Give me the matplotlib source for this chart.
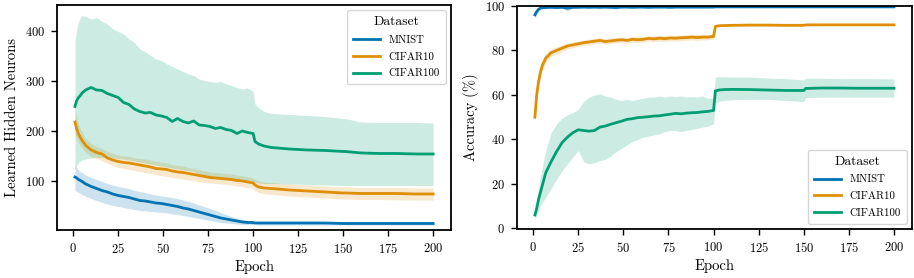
import matplotlib
matplotlib.use("Agg")
import matplotlib.pyplot as plt

plt.rcParams['font.family'] = 'serif'
plt.rcParams['font.serif'] = ['cmr10', 'DejaVu Serif']
plt.rcParams['mathtext.fontset'] = 'cm'
plt.rcParams['axes.formatter.use_mathtext'] = True

epochs = [1, 2, 3, 4, 5, 7, 10, 13, 16, 19, 22, 25, 28, 31, 34, 37, 40, 43, 46, 49,
          52, 55, 58, 61, 64, 67, 70, 73, 76, 79, 82, 85, 88, 91, 94, 97, 100,
          101, 103, 106, 110, 120, 130, 140, 150, 151, 160, 170, 180, 190, 200]

datasets = ['MNIST', 'CIFAR10', 'CIFAR100']
colors = ['#0173B2', '#DE8F05', '#029E73']

# ---- learned hidden neurons ----
neur_mnist = [109, 107, 104, 102, 100, 95, 90, 86, 82, 79, 75, 72, 70, 68, 65, 62, 61, 59, 57, 56,
              54, 52, 50, 47, 45, 42, 39, 36, 33, 30, 27, 25, 23, 21, 19, 18, 18,
              17, 17, 17, 17, 17, 17, 17, 16, 16, 16, 16, 16, 16, 16]
neur_mnist_hi = [132, 128, 122, 120, 118, 113, 108, 104, 100, 96, 93, 90, 88, 86, 82, 80, 78, 75, 73, 71,
                 70, 68, 66, 63, 60, 57, 53, 50, 46, 42, 38, 34, 30, 27, 24, 22, 21,
                 20, 20, 20, 20, 20, 20, 20, 19, 19, 19, 19, 19, 19, 19]
neur_mnist_lo = [82, 80, 78, 76, 74, 70, 66, 62, 58, 55, 52, 50, 48, 46, 44, 42, 41, 40, 39, 38,
                 37, 35, 34, 32, 30, 28, 26, 24, 22, 20, 18, 17, 16, 15, 14, 14, 14,
                 14, 13, 13, 13, 13, 13, 13, 13, 13, 13, 13, 13, 13, 13]

neur_c10 = [219, 205, 195, 188, 182, 172, 163, 158, 155, 147, 143, 140, 138, 137, 135, 133, 131, 129, 126, 125,
            124, 121, 119, 118, 116, 114, 112, 110, 108, 107, 106, 105, 104, 102, 101, 99, 97,
            93, 89, 87, 86, 83, 81, 79, 77, 77, 76, 76, 76, 75, 75]
neur_c10_hi = [245, 228, 215, 205, 198, 186, 176, 170, 166, 160, 156, 153, 151, 150, 148, 146, 145, 143, 140, 139,
               137, 134, 132, 131, 128, 126, 124, 121, 119, 118, 117, 116, 115, 113, 111, 109, 107,
               104, 101, 99, 98, 95, 93, 91, 89, 89, 88, 88, 88, 87, 87]
neur_c10_lo = [195, 185, 177, 172, 167, 158, 150, 146, 141, 136, 132, 128, 126, 124, 122, 120, 118, 116, 113, 112,
               110, 108, 106, 105, 103, 102, 100, 98, 97, 96, 95, 94, 93, 91, 90, 88, 86,
               82, 78, 75, 74, 71, 69, 67, 65, 65, 64, 64, 63, 63, 63]

neur_c100 = [250, 262, 268, 272, 277, 283, 288, 283, 282, 276, 272, 268, 258, 254, 245, 240, 237, 238, 233, 231,
             228, 220, 226, 220, 217, 221, 213, 212, 210, 206, 208, 204, 202, 196, 201, 198, 196,
             180, 175, 171, 168, 165, 163, 162, 160, 160, 157, 156, 156, 155, 155]
neur_c100_hi = [380, 405, 420, 428, 432, 430, 425, 428, 420, 415, 405, 400, 395, 385, 378, 365, 360, 352, 345, 342,
                335, 330, 325, 320, 315, 312, 305, 302, 300, 298, 300, 295, 292, 288, 285, 287, 280,
                255, 248, 240, 236, 234, 232, 230, 226, 226, 219, 218, 218, 218, 217]
neur_c100_lo = [125, 132, 138, 141, 143, 145, 147, 148, 148, 148, 147, 146, 145, 143, 141, 139, 137, 135, 133, 131,
                129, 127, 125, 123, 122, 120, 113, 111, 110, 108, 107, 106, 105, 104, 103, 102, 100,
                98, 97, 96, 96, 95, 94, 93, 92, 92, 92, 92, 92, 92, 92]

# ---- accuracy (%) ----
acc_mnist = [96.0, 97.5, 98.5, 99.0, 99.2, 99.3, 99.4, 99.3, 99.4, 99.0, 99.4, 99.4, 99.5, 99.4, 99.5, 99.4, 99.5, 99.4, 99.3, 99.5,
             99.5, 99.4, 99.5, 99.5, 99.4, 99.5, 99.5, 99.5, 99.4, 99.5, 99.5, 99.5, 99.5, 99.5, 99.5, 99.5, 99.5,
             99.6, 99.6, 99.6, 99.6, 99.6, 99.6, 99.6, 99.6, 99.6, 99.6, 99.6, 99.6, 99.6, 99.6]
acc_mnist_hi = [97.5, 98.7, 99.4, 99.8, 99.9, 100, 100, 100, 100, 99.9, 100, 100, 100, 100, 100, 100, 100, 100, 100, 100,
                100, 100, 100, 100, 100, 100, 100, 100, 100, 100, 100, 100, 100, 100, 100, 100, 100,
                100, 100, 100, 100, 100, 100, 100, 100, 100, 100, 100, 100, 100, 100]
acc_mnist_lo = [94.5, 96.0, 97.5, 98.3, 98.6, 98.8, 99.0, 98.8, 99.0, 97.8, 99.0, 99.0, 99.1, 98.9, 99.1, 99.0, 99.1, 99.0, 98.6, 99.1,
                99.1, 99.0, 99.1, 99.1, 99.0, 99.1, 99.1, 99.2, 99.0, 99.2, 99.2, 99.2, 99.2, 99.2, 99.2, 99.2, 99.2,
                99.5, 99.5, 99.5, 99.5, 99.5, 99.5, 99.5, 99.5, 99.5, 99.5, 99.5, 99.5, 99.5, 99.5]

acc_c10 = [50.0, 60.0, 66.0, 70.0, 73.0, 76.5, 79.0, 80.0, 81.0, 82.0, 82.5, 83.0, 83.5, 83.8, 84.2, 84.5, 84.0, 84.3, 84.6, 84.8,
           84.5, 85.0, 84.8, 85.0, 85.4, 85.2, 85.5, 85.3, 85.6, 85.5, 85.7, 85.8, 86.0, 85.8, 86.0, 86.0, 86.3,
           90.8, 91.1, 91.2, 91.3, 91.4, 91.4, 91.3, 91.3, 91.5, 91.5, 91.5, 91.5, 91.5, 91.5]
acc_c10_hi = [52.0, 63.0, 69.0, 73.0, 75.5, 78.5, 80.8, 81.6, 82.5, 83.3, 83.8, 84.2, 84.7, 85.0, 85.4, 85.7, 85.3, 85.5, 85.8, 86.0,
              85.8, 86.3, 86.1, 86.3, 86.7, 86.5, 86.8, 86.6, 86.9, 86.8, 87.0, 87.1, 87.3, 87.1, 87.3, 87.2, 87.4,
              91.2, 91.5, 91.6, 91.6, 91.7, 91.7, 91.6, 91.6, 91.8, 91.8, 91.8, 91.8, 91.8, 91.8]
acc_c10_lo = [48.0, 57.0, 63.0, 67.0, 70.5, 74.5, 77.2, 78.4, 79.5, 80.7, 81.2, 81.8, 82.3, 82.6, 83.0, 83.3, 82.7, 83.1, 83.4, 83.6,
              83.2, 83.7, 83.5, 83.7, 84.1, 83.9, 84.2, 84.0, 84.3, 84.2, 84.4, 84.5, 84.7, 84.5, 84.7, 84.8, 85.2,
              90.4, 90.7, 90.8, 91.0, 91.1, 91.1, 91.0, 91.0, 91.2, 91.2, 91.2, 91.2, 91.2, 91.2]

acc_c100 = [6.0, 9.0, 13.0, 16.0, 19.0, 25.0, 30.0, 34.5, 38.5, 41.0, 43.0, 44.3, 44.0, 43.7, 44.0, 45.5, 46.0, 46.8, 47.5, 48.2,
            49.0, 49.3, 49.8, 50.0, 50.2, 50.5, 50.6, 51.0, 51.3, 51.7, 51.5, 51.8, 52.0, 52.1, 52.4, 52.6, 53.0,
            61.8, 62.2, 62.4, 62.5, 62.4, 62.2, 62.0, 62.0, 62.9, 63.1, 63.1, 63.0, 63.0, 63.0]
acc_c100_hi = [7.0, 12.0, 18.0, 23.0, 27.0, 35.0, 43.0, 47.0, 49.5, 51.0, 52.0, 53.5, 57.0, 59.0, 60.0, 60.5, 59.5, 59.0, 58.0, 57.5,
               58.0, 57.5, 58.0, 58.5, 59.0, 59.0, 59.5, 59.0, 59.5, 59.2, 59.5, 59.0, 59.3, 59.0, 59.5, 58.5, 58.5,
               68.0, 68.2, 68.2, 68.0, 68.0, 67.6, 67.3, 66.7, 67.5, 67.5, 67.3, 67.3, 67.3, 67.2]
acc_c100_lo = [4.0, 6.0, 8.0, 10.0, 11.5, 14.0, 18.0, 22.0, 26.0, 29.0, 32.0, 35.0, 30.0, 29.0, 29.5, 30.5, 31.0, 32.5, 34.5, 36.0,
               37.5, 39.0, 40.0, 41.0, 41.5, 42.0, 42.5, 43.5, 44.0, 44.0, 43.5, 44.0, 44.5, 45.0, 45.5, 46.0, 47.0,
               56.5, 57.0, 57.5, 57.8, 58.0, 58.0, 57.5, 57.0, 58.8, 59.0, 59.0, 59.0, 59.0, 59.0]

neur_series = [(neur_mnist, neur_mnist_lo, neur_mnist_hi),
               (neur_c10, neur_c10_lo, neur_c10_hi),
               (neur_c100, neur_c100_lo, neur_c100_hi)]
acc_series = [(acc_mnist, acc_mnist_lo, acc_mnist_hi),
              (acc_c10, acc_c10_lo, acc_c10_hi),
              (acc_c100, acc_c100_lo, acc_c100_hi)]

fig = plt.figure(figsize=(9.14, 2.78), dpi=100)
ax1 = fig.add_axes([0.0624, 0.1727, 0.4311, 0.8094])
ax2 = fig.add_axes([0.5656, 0.1763, 0.4322, 0.8022])

for ax, series in [(ax1, neur_series), (ax2, acc_series)]:
    for name, color, (m, lo, hi) in zip(datasets, colors, series):
        ax.fill_between(epochs, lo, hi, color=color, alpha=0.2, linewidth=0)
        ax.plot(epochs, m, color=color, lw=2.0, label=name)
    ax.set_xlim(-8.95, 209.95)
    ax.set_xticks(range(0, 201, 25))
    ax.set_xlabel('Epoch', fontsize=10.5, labelpad=3)
    ax.tick_params(direction='out', length=4, width=1, labelsize=9, pad=4.5)
    for sp in ax.spines.values():
        sp.set_linewidth(1.3)

ax1.set_ylim(3, 453)
ax1.set_yticks([100, 200, 300, 400])
ax1.set_ylabel('Learned Hidden Neurons', fontsize=10.5, labelpad=4)
ax2.set_ylim(-0.3, 100)
ax2.set_yticks(range(0, 101, 20))
ax2.set_ylabel('Accuracy (%)', fontsize=10.5, labelpad=4)

for ax, loc in [(ax1, 'upper right'), (ax2, 'lower right')]:
    leg = ax.legend(title='Dataset', loc=loc, fontsize=7.8, title_fontsize=9.8,
                    handlelength=2.5, frameon=True, fancybox=True, framealpha=0.8,
                    edgecolor='#cccccc', borderpad=0.55, labelspacing=0.65,
                    borderaxespad=0.5)

fig.savefig('out.png', dpi=100)
